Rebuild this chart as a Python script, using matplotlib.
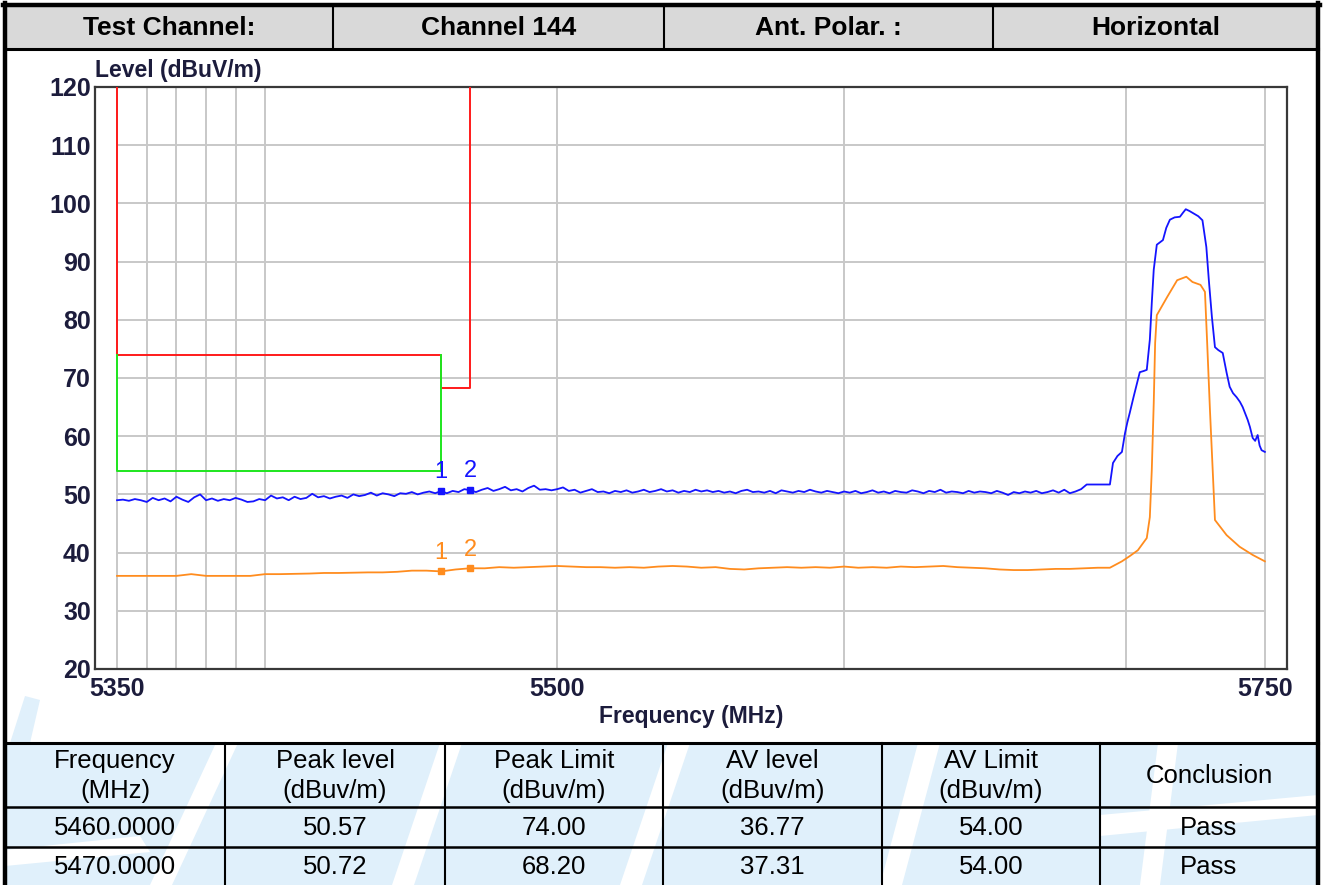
import numpy as np
import matplotlib
matplotlib.use("Agg")
import matplotlib.pyplot as plt
from matplotlib.patches import Rectangle, Polygon
from matplotlib.ticker import FixedLocator, FixedFormatter, NullLocator, NullFormatter

plt.rcParams['font.family'] = ['Liberation Sans', 'DejaVu Sans']

# ---------------- data ----------------
header_cells = ["Test Channel:", "Channel 144", "Ant. Polar. :", "Horizontal"]

y_ticks = [20, 30, 40, 50, 60, 70, 80, 90, 100, 110, 120]
x_ticks = [5350, 5500, 5750]
x_grid = [5350, 5360, 5370, 5380, 5390, 5400, 5500, 5600, 5700, 5750]

peak_limit_freq = [5350, 5350, 5460, 5460, 5470, 5470]
peak_limit_level = [120, 74, 74, 68.2, 68.2, 120]
av_limit_freq = [5350, 5350, 5460, 5460]
av_limit_level = [74, 54, 54, 74]

# Peak (blue) trace: sweep 5350..5690 MHz, 2 MHz step
peak_sweep_freq = np.arange(5350, 5691, 2)
peak_sweep_level = [
    49.0, 49.1, 48.9, 49.2, 49.0, 48.7, 49.4, 49.0, 49.3, 48.8, 49.6, 49.1, 48.7,
    49.5, 50.0, 49.0, 49.3, 48.9, 49.2, 49.0, 49.4, 49.1, 48.7, 48.8, 49.2,
    49.0, 49.8, 49.3, 49.5, 49.0, 49.6, 49.2, 49.4, 50.1, 49.5, 49.7, 49.3, 49.6,
    49.8, 49.4, 50.0, 49.7, 49.9, 50.3, 49.8, 50.2, 50.0, 49.7, 50.2, 50.1,
    50.4, 50.0, 50.3, 50.5, 50.2, 50.57, 50.2, 50.6, 50.4, 50.9, 50.72, 50.4, 50.8,
    51.1, 50.6, 50.9, 51.3, 50.7, 50.9, 50.5, 51.1, 51.5, 50.8, 50.9, 50.7,
    50.9, 51.2, 50.6, 50.8, 50.3, 50.6, 50.9, 50.4, 50.5, 50.2, 50.6, 50.4, 50.7,
    50.3, 50.5, 50.8, 50.4, 50.6, 50.9, 50.5, 50.7, 50.3, 50.6, 50.4, 50.8,
    50.5, 50.7, 50.4, 50.6, 50.3, 50.5, 50.2, 50.6, 50.8, 50.4, 50.5, 50.3, 50.6,
    50.2, 50.7, 50.5, 50.3, 50.6, 50.4, 50.8, 50.5, 50.3, 50.6, 50.4, 50.2,
    50.5, 50.3, 50.6, 50.2, 50.4, 50.7, 50.3, 50.5, 50.2, 50.6, 50.4, 50.3, 50.7,
    50.5, 50.2, 50.6, 50.4, 50.8, 50.3, 50.5, 50.4, 50.2, 50.6, 50.3, 50.5,
    50.4, 50.2, 50.6, 50.3, 49.9, 50.4, 50.2, 50.5, 50.3, 50.6, 50.2, 50.4, 50.7,
    50.3, 50.8, 50.2, 50.5, 50.9, 51.7, 51.7, 51.7,
]
# Peak (blue) trace: emission of the channel
peak_band_freq = [5692.0, 5694.3, 5695.0, 5695.4, 5697.0, 5698.6, 5699.7, 5700.5, 5701.4,
                  5702.8, 5704.3, 5705.0, 5706.4, 5707.5, 5708.6, 5709.3, 5710.0,
                  5711.1, 5713.3, 5714.5, 5715.8, 5717.5, 5719.4, 5720.5, 5721.5,
                  5722.8, 5724.2, 5726.0, 5727.5, 5728.9, 5729.8, 5730.9, 5732.0,
                  5733.2, 5734.8, 5736.2, 5737.3, 5738.5, 5739.8, 5741.0, 5742.0,
                  5743.8, 5744.6, 5745.6, 5746.5, 5747.4, 5748.1, 5748.8, 5750.0]
peak_band_level = [51.7, 51.7, 54.0, 55.4, 56.6, 57.3, 60.5, 62.3, 64.0,
                   66.8, 69.7, 71.0, 71.2, 71.4, 76.6, 82.9, 88.6,
                   92.9, 93.7, 95.8, 97.2, 97.6, 97.7, 98.4, 99.0,
                   98.7, 98.3, 97.8, 97.1, 92.5, 86.8, 80.5, 75.3,
                   74.8, 74.3, 70.9, 68.5, 67.4, 66.7, 65.9, 65.0,
                   62.8, 61.6, 59.7, 59.2, 60.2, 58.4, 57.6, 57.3]

# Average (orange) trace: sweep 5350..5690 MHz, 5 MHz step
av_sweep_freq = np.arange(5350, 5691, 5)
av_sweep_level = [
    36.0, 36.0, 36.0, 36.0, 36.0, 36.3, 36.0, 36.0, 36.0, 36.0,
    36.3, 36.3, 36.35, 36.4, 36.5, 36.5, 36.55, 36.6, 36.6, 36.7,
    36.9, 36.9, 36.77, 37.1, 37.31, 37.3, 37.5, 37.4, 37.5, 37.6,
    37.7, 37.6, 37.5, 37.5, 37.4, 37.5, 37.4, 37.6, 37.7, 37.6,
    37.4, 37.5, 37.2, 37.1, 37.3, 37.4, 37.5, 37.4, 37.5, 37.4,
    37.6, 37.4, 37.5, 37.4, 37.6, 37.5, 37.6, 37.7, 37.5, 37.4,
    37.3, 37.1, 37.0, 37.0, 37.1, 37.2, 37.2, 37.3, 37.4,
]
av_band_freq = [5694.3, 5698.6, 5701.4, 5704.3, 5707.5, 5708.6, 5709.3, 5710.0,
                5710.5, 5711.1, 5714.8, 5718.4, 5721.7, 5723.9, 5726.8, 5728.4,
                5729.2, 5730.2, 5731.3, 5732.0, 5736.2, 5740.9, 5745.6, 5750.0]
av_band_level = [37.4, 38.5, 39.4, 40.4, 42.5, 46.1, 54.2, 65.7,
                 76.0, 80.8, 83.9, 86.8, 87.4, 86.5, 86.0, 84.8,
                 76.0, 64.5, 53.0, 45.6, 43.0, 41.0, 39.6, 38.5]

marker_freq = [5460, 5470]
marker_peak = [50.57, 50.72]
marker_av = [36.77, 37.31]
marker_names = ["1", "2"]

table_columns = ["Frequency\n(MHz)", "Peak level\n(dBuv/m)", "Peak Limit\n(dBuv/m)",
                 "AV level\n(dBuv/m)", "AV Limit\n(dBuv/m)", "Conclusion"]
table_rows = [
    ["5460.0000", "50.57", "74.00", "36.77", "54.00", "Pass"],
    ["5470.0000", "50.72", "68.20", "37.31", "54.00", "Pass"],
]

# ---------------- styles ----------------
W, H = 1328, 885
BLUE = '#1414ff'
ORANGE = '#ff8c1e'
RED = '#ff1a1a'
GREEN = '#1ee61e'
GRID = '#c8c8c8'
LABEL = '#1c1c3c'
WATER = '#e0f0fb'

fig = plt.figure(figsize=(W / 100, H / 100), dpi=100)
fig.patch.set_facecolor('white')

# ---- background layer: header table, bottom table, watermark ----
bg = fig.add_axes([0, 0, 1, 1], zorder=0)
bg.set_xlim(0, W)
bg.set_ylim(H, 0)
bg.axis('off')

# watermark pieces (light blue swooshes)
bg.add_patch(Rectangle((5, 743), 1313, 142, facecolor=WATER, edgecolor='none'))
bg.add_patch(Polygon([(10, 743), (25, 696), (40, 700), (30, 743)], closed=True,
                     facecolor=WATER, edgecolor='none'))
white_bands = [
    [(150, 885), (172, 885), (238, 743), (216, 743)],
    [(392, 885), (414, 885), (462, 743), (440, 743)],
    [(620, 885), (642, 885), (690, 743), (668, 743)],
    [(880, 885), (902, 885), (940, 743), (918, 743)],
    [(1140, 885), (1160, 885), (1178, 743), (1158, 743)],
    [(1100, 815), (1318, 795), (1318, 815), (1100, 836)],
    [(5, 850), (140, 836), (150, 852), (5, 866)],
]
for pts in white_bands:
    bg.add_patch(Polygon(pts, closed=True, facecolor='white', edgecolor='none'))

# header row
bg.add_patch(Rectangle((5, 5), 1313, 44, facecolor='#d9d9d9', edgecolor='none'))
header_edges = [5, 333, 664, 993, 1318]
for x in header_edges[1:-1]:
    bg.plot([x, x], [5, 49], color='black', lw=1.5)
for i, txt in enumerate(header_cells):
    xc = (header_edges[i] + header_edges[i + 1]) / 2
    bg.text(xc, 28, txt, ha='center', va='center', fontsize=19, fontweight='bold',
            color='black')
bg.plot([5, 1318], [49, 49], color='black', lw=2.2)

# bottom table
col_edges = [5, 225, 445, 663, 882, 1100, 1318]
row_edges = [743, 807, 847, 885]
bg.plot([5, 1318], [743, 743], color='black', lw=2.2)
for y in row_edges[1:3]:
    bg.plot([5, 1318], [y, y], color='black', lw=1.8)
for x in col_edges[1:-1]:
    bg.plot([x, x], [743, 885], color='black', lw=1.5)
for j, txt in enumerate(table_columns):
    xc = (col_edges[j] + col_edges[j + 1]) / 2
    bg.text(xc, 776, txt, ha='center', va='center', fontsize=18.5, color='black',
            linespacing=1.3)
for i, row in enumerate(table_rows):
    yc = (row_edges[i + 1] + row_edges[i + 2]) / 2 + 1
    for j, txt in enumerate(row):
        xc = (col_edges[j] + col_edges[j + 1]) / 2
        bg.text(xc, yc, txt, ha='center', va='center', fontsize=18.5, color='black')

# outer border
bg.plot([5, 5], [3, 885], color='black', lw=3.2)
bg.plot([1318, 1318], [3, 885], color='black', lw=3.2)
bg.plot([3, 1320], [5, 5], color='black', lw=3.2)

# ---- chart ----
ax = fig.add_axes([95 / W, 1 - 669 / H, (1287 - 95) / W, (669 - 87) / H], zorder=2)
ax.set_facecolor('white')
ax.set_xscale('log')
ax.set_xlim(5342.6, 5758.0)
ax.set_ylim(20, 120)

ax.vlines(x_grid, 20, 120, color=GRID, lw=1.4, zorder=1)
ax.hlines(y_ticks[1:-1], 5350, 5750, color=GRID, lw=1.4, zorder=1)

ax.plot(peak_limit_freq, peak_limit_level, color=RED, lw=1.4, zorder=3)
ax.plot(av_limit_freq, av_limit_level, color=GREEN, lw=1.4, zorder=3)

ax.plot(np.concatenate([peak_sweep_freq, peak_band_freq]),
        np.concatenate([peak_sweep_level, peak_band_level]),
        color=BLUE, lw=1.3, zorder=4)
ax.plot(np.concatenate([av_sweep_freq, av_band_freq]),
        np.concatenate([av_sweep_level, av_band_level]),
        color=ORANGE, lw=1.3, zorder=4)

ax.plot(marker_freq, marker_peak, 's', color=BLUE, ms=4, zorder=5)
ax.plot(marker_freq, marker_av, 's', color=ORANGE, ms=4, zorder=5)
for f, pk, av, nm in zip(marker_freq, marker_peak, marker_av, marker_names):
    ax.annotate(nm, (f, pk), xytext=(0, 14), textcoords='offset points',
                ha='center', va='center', fontsize=17, color=BLUE)
    ax.annotate(nm, (f, av), xytext=(0, 13), textcoords='offset points',
                ha='center', va='center', fontsize=17, color=ORANGE)

ax.xaxis.set_major_locator(FixedLocator(x_ticks))
ax.xaxis.set_major_formatter(FixedFormatter([str(v) for v in x_ticks]))
ax.xaxis.set_minor_locator(NullLocator())
ax.xaxis.set_minor_formatter(NullFormatter())
ax.set_yticks(y_ticks)
ax.set_yticklabels([str(v) for v in y_ticks])
ax.tick_params(axis='both', length=0, labelsize=18, labelcolor=LABEL)
ax.tick_params(axis='x', pad=6)
ax.tick_params(axis='y', pad=3)
for lbl in ax.get_xticklabels() + ax.get_yticklabels():
    lbl.set_fontweight('bold')

ax.set_xlabel("Frequency (MHz)", fontsize=16.5, fontweight='bold', color=LABEL, labelpad=3)
ax.text(0, 1 + 17 / 582, "Level (dBuV/m)", transform=ax.transAxes, ha='left',
        va='center', fontsize=16.5, fontweight='bold', color=LABEL)

for sp in ax.spines.values():
    sp.set_color('#383838')
    sp.set_linewidth(1.6)

fig.savefig('out.png', dpi=100, facecolor='white')
